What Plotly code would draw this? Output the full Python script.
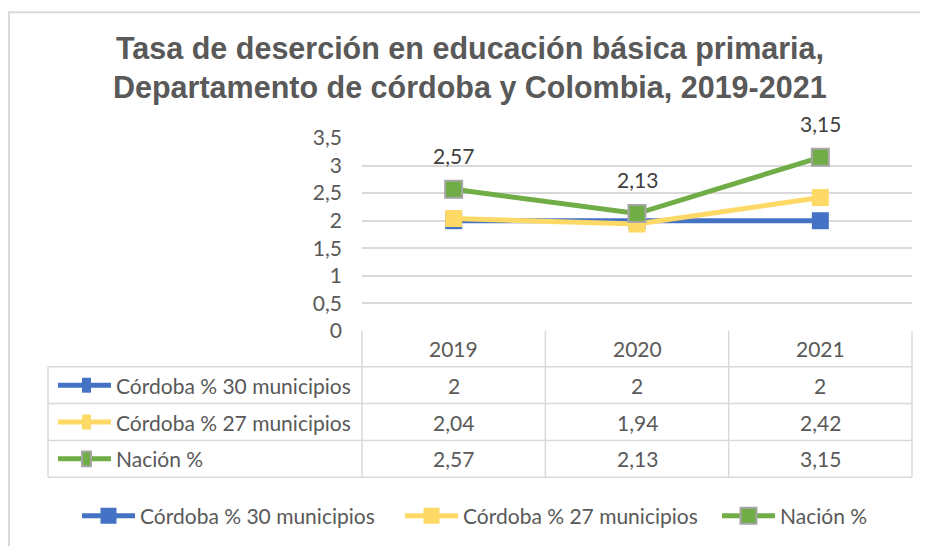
import plotly.graph_objects as go

# ---------------- data ----------------
YEARS = ["2019", "2020", "2021"]
SERIES_NAMES = ["Córdoba % 30 municipios", "Córdoba % 27 municipios", "Nación %"]
CORDOBA_30 = [2, 2, 2]
CORDOBA_27 = [2.04, 1.94, 2.42]
NACION = [2.57, 2.13, 3.15]
SERIES_VALUES = [CORDOBA_30, CORDOBA_27, NACION]
TITLE_LINES = ["Tasa de deserción en educación básica primaria,",
               "Departamento de córdoba y Colombia, 2019-2021"]
Y_TICKS = [0, 0.5, 1, 1.5, 2, 2.5, 3, 3.5]

# ---------------- style ----------------
COLORS = ["#4472C4", "#FFD966", "#70AD47"]
MARKER_BORDER = [None, None, "#A5A5A5"]
GRID = "#D9D9D9"
TXT = "#595959"
LBL = "#404040"
FONT = "Lato"
FS = 21
OFF = 8  # page body margin
W, H = 928 - OFF, 546 - OFF
# plot area on screen: x 362..912, y 138..332
L, R, T, B = 362 - OFF, W - (912 - OFF), 138 - OFF, H - (332 - OFF)
PW, PH = W - L - R, H - T - B
LEGEND_X = [77, 400, 717]  # screen x of each bottom legend entry
LEGEND_IDS = ["legend", "legend2", "legend3"]


def fx(px):
    """screen x pixel -> paper fraction"""
    return (px - OFF - L) / PW


def fy(py):
    """screen y pixel -> paper fraction"""
    return (H - B - (py - OFF)) / PH


def fmt(v):
    return ("%g" % v).replace(".", ",")


fig = go.Figure()
for name, vals, col, brd, lid in zip(SERIES_NAMES, SERIES_VALUES, COLORS, MARKER_BORDER, LEGEND_IDS):
    fig.add_trace(go.Scatter(
        x=YEARS, y=vals, name=name, mode="lines+markers", legend=lid,
        line=dict(color=col, width=5),
        marker=dict(symbol="square", size=17, color=col,
                    line=dict(color=brd if brd else col, width=2 if brd else 0)),
        hoverinfo="x+y+name",
    ))

annotations = []
shapes = []

# title
for i, line in enumerate(TITLE_LINES):
    annotations.append(dict(
        text=line, xref="paper", yref="paper", x=fx(470), y=fy(48 + 39 * i),
        xanchor="center", yanchor="middle", showarrow=False,
        font=dict(family="Liberation Sans", size=30.5, color=TXT, weight="bold")))

# data labels for Nación
for i, v in enumerate(NACION):
    annotations.append(dict(
        text=fmt(v), x=i, y=v, xref="x", yref="y", showarrow=False,
        yshift=34, font=dict(family=FONT, size=FS, color=LBL)))

# data table
row_top = [332, 368, 405, 442, 479]
for i, yr in enumerate(YEARS):
    annotations.append(dict(
        text=yr, x=i, xref="x", yref="paper", y=fy((row_top[0] + row_top[1]) / 2),
        showarrow=False, yanchor="middle", font=dict(family=FONT, size=FS, color=TXT)))
for r, (name, vals, col, brd) in enumerate(zip(SERIES_NAMES, SERIES_VALUES, COLORS, MARKER_BORDER)):
    yc = (row_top[r + 1] + row_top[r + 2]) / 2
    annotations.append(dict(
        text=name, x=fx(114), xref="paper", yref="paper", y=fy(yc), xanchor="left",
        yanchor="middle", showarrow=False, font=dict(family=FONT, size=FS, color=TXT)))
    for i, v in enumerate(vals):
        annotations.append(dict(
            text=fmt(v), x=i, xref="x", yref="paper", y=fy(yc), yanchor="middle",
            showarrow=False, font=dict(family=FONT, size=FS, color=TXT)))
    # legend key inside the table
    shapes.append(dict(type="line", xref="paper", yref="paper", x0=fx(58), x1=fx(111),
                       y0=fy(yc), y1=fy(yc), line=dict(color=col, width=5), layer="above"))
    shapes.append(dict(type="rect", xref="paper", yref="paper", x0=fx(82), x1=fx(91),
                       y0=fy(yc - 7.5), y1=fy(yc + 7.5), fillcolor=col,
                       line=dict(color=brd if brd else col, width=2 if brd else 0), layer="above"))

# table grid lines
for y in row_top[1:]:
    shapes.append(dict(type="line", xref="paper", yref="paper", x0=fx(48), x1=fx(912),
                       y0=fy(y), y1=fy(y), line=dict(color=GRID, width=1.5)))
for xp in [0.0, 1 / 3, 2 / 3, 1.0]:
    shapes.append(dict(type="line", xref="paper", yref="paper", x0=xp, x1=xp,
                       y0=fy(332), y1=fy(479), line=dict(color=GRID, width=1.5)))
shapes.append(dict(type="line", xref="paper", yref="paper", x0=fx(48), x1=fx(48),
                   y0=fy(368), y1=fy(479), line=dict(color=GRID, width=1.5)))
# chart border (only top/left visible)
shapes.append(dict(type="rect", xref="paper", yref="paper", x0=fx(9), x1=fx(960),
                   y0=fy(11.5), y1=fy(600), line=dict(color=GRID, width=2)))

legends = {}
for lid, lx in zip(LEGEND_IDS, LEGEND_X):
    legends[lid] = dict(orientation="h", x=fx(lx), y=fy(516), xanchor="left", yanchor="middle",
                        font=dict(family=FONT, size=FS, color=TXT), itemwidth=53,
                        bgcolor="rgba(0,0,0,0)", borderwidth=0)

fig.update_layout(
    width=W, height=H, autosize=False,
    margin=dict(l=L, r=R, t=T, b=B, pad=0),
    paper_bgcolor="white", plot_bgcolor="white",
    separators=",.",
    font=dict(family=FONT, size=FS, color=TXT),
    showlegend=True,
    xaxis=dict(type="category", range=[-0.5, 2.5], showticklabels=False, showgrid=False,
               zeroline=False, showline=False, fixedrange=True),
    yaxis=dict(range=[0, 3.5], tickvals=Y_TICKS, showgrid=True, gridcolor=GRID, gridwidth=1.5,
               zeroline=False, showline=False, ticks="", ticklabelstandoff=19,
               tickfont=dict(family=FONT, size=FS, color=TXT), fixedrange=True),
    annotations=annotations, shapes=shapes,
    **legends,
)

fig.write_html("out.html")
